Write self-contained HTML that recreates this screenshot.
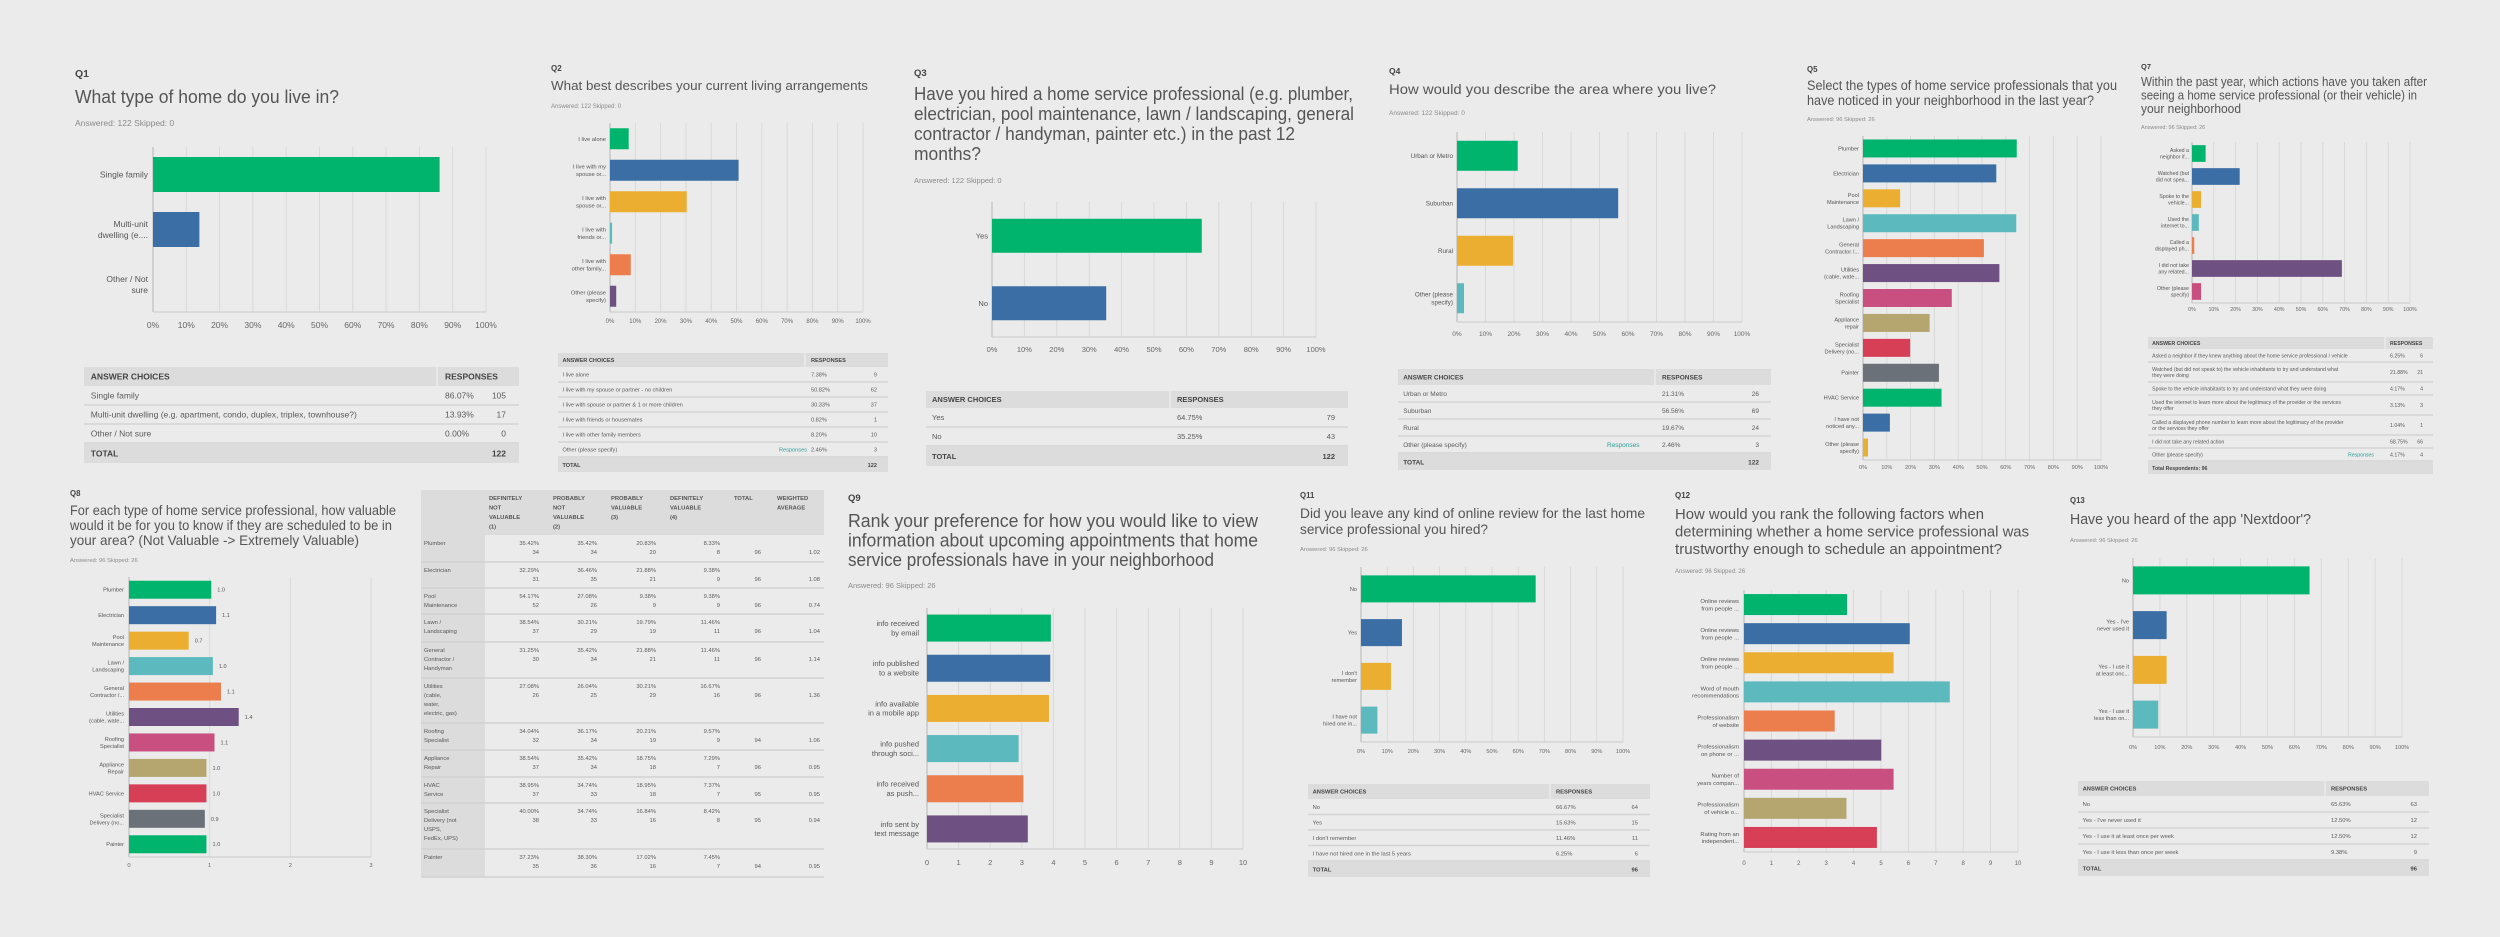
<!DOCTYPE html>
<html><head><meta charset="utf-8"><title>Survey results</title>
<style>
html,body{margin:0;padding:0;background:#ebebeb;}
#root{width:2500px;height:937px;overflow:hidden;}
svg text{font-family:"Liberation Sans",sans-serif;}
</style></head>
<body>
<div id="root">
<svg id="svg" width="2500" height="937" viewBox="0 0 2500 937" xmlns="http://www.w3.org/2000/svg">
<rect x="0" y="0" width="2500" height="937" fill="#ebebeb"/>
</svg>
</div>
<script>
// ---------- DATA ----------
const pctTicks = ["0%","10%","20%","30%","40%","50%","60%","70%","80%","90%","100%"];
const tenTicks = ["0","1","2","3","4","5","6","7","8","9","10"];
const q8Ticks = ["0","1","2","3"];

const q1Cats = ["Single family","Multi-unit|dwelling (e....","Other / Not|sure"];
const q1Vals = [86.07,13.93,0];
const q2Cats = ["I live alone","I live with my|spouse or...","I live with|spouse or...","I live with|friends or...","I live with|other family...","Other (please|specify)"];
const q2Vals = [7.38,50.82,30.33,0.82,8.20,2.46];
const q3Cats = ["Yes","No"];
const q3Vals = [64.75,35.25];
const q4Cats = ["Urban or Metro","Suburban","Rural","Other (please|specify)"];
const q4Vals = [21.31,56.56,19.67,2.46];
const q5Cats = ["Plumber","Electrician","Pool|Maintenance","Lawn /|Landscaping","General|Contractor /...","Utilities|(cable, wate...","Roofing|Specialist","Appliance|repair","Specialist|Delivery (no...","Painter","HVAC Service","I have not|noticed any...","Other (please|specify)"];
const q5Vals = [64.6,56.0,15.6,64.4,50.8,57.3,37.3,28.0,19.8,31.9,33.0,11.3,2.1];
const q7Cats = ["Asked a|neighbor if...","Watched (but|did not spea...","Spoke to the|vehicle...","Used the|internet to...","Called a|displayed ph...","I did not take|any related...","Other (please|specify)"];
const q7Vals = [6.25,21.88,4.17,3.13,1.04,68.75,4.17];
const q8Cats = ["Plumber","Electrician","Pool|Maintenance","Lawn /|Landscaping","General|Contractor /...","Utilities|(cable, wate...","Roofing|Specialist","Appliance|Repair","HVAC Service","Specialist|Delivery (no...","Painter"];
const q8Vals = [1.02,1.08,0.74,1.04,1.14,1.36,1.06,0.96,0.96,0.94,0.96];
const q8ValLabels = ["1.0","1.1","0.7","1.0","1.1","1.4","1.1","1.0","1.0","0.9","1.0"];
const q9Cats = ["info received|by email","info published|to a website","info available|in a mobile app","info pushed|through soci...","info received|as push...","info sent by|text message"];
const q9Vals = [3.92,3.90,3.86,2.90,3.05,3.19];
const q11Cats = ["No","Yes","I don't|remember","I have not|hired one in..."];
const q11Vals = [66.67,15.63,11.46,6.25];
const q12Cats = ["Online reviews|from people ...","Online reviews|from people ...","Online reviews|from people ...","Word of mouth|recommendations","Professionalism|of website","Professionalism|on phone or ...","Number of|years compan...","Professionalism|of vehicle o...","Rating from an|independent..."];
const q12Vals = [3.76,6.05,5.46,7.51,3.31,5.01,5.46,3.74,4.85];
const q13Cats = ["No","Yes - I've|never used it","Yes - I use it|at least onc...","Yes - I use it|less than on..."];
const q13Vals = [65.63,12.50,12.50,9.38];

// table data
const t1Labels = ["Single family","Multi-unit dwelling (e.g. apartment, condo, duplex, triplex, townhouse?)","Other / Not sure"];
const t1Pcts = ["86.07%","13.93%","0.00%"];
const t1Counts = ["105","17","0"];
const t2Labels = ["I live alone","I live with my spouse or partner - no children","I live with spouse or partner & 1 or more children","I live with friends or housemates","I live with other family members","Other (please specify)"];
const t2Pcts = ["7.38%","50.82%","30.33%","0.82%","8.20%","2.46%"];
const t2Counts = ["9","62","37","1","10","3"];
const t3Labels = ["Yes","No"];
const t3Pcts = ["64.75%","35.25%"];
const t3Counts = ["79","43"];
const t4Labels = ["Urban or Metro","Suburban","Rural","Other (please specify)"];
const t4Pcts = ["21.31%","56.56%","19.67%","2.46%"];
const t4Counts = ["26","69","24","3"];
const t7Labels = ["Asked a neighbor if they knew anything about the home service professional / vehicle","Watched (but did not speak to) the vehicle inhabitants to try and understand what|they were doing","Spoke to the vehicle inhabitants to try and understand what they were doing","Used the internet to learn more about the legitimacy of the provider or the services|they offer","Called a displayed phone number to learn more about the legitimacy of the provider|or the services they offer","I did not take any related action","Other (please specify)"];
const t7Pcts = ["6.25%","21.88%","4.17%","3.13%","1.04%","68.75%","4.17%"];
const t7Counts = ["6","21","4","3","1","66","4"];
const t11Labels = ["No","Yes","I don't remember","I have not hired one in the last 5 years"];
const t11Pcts = ["66.67%","15.63%","11.46%","6.25%"];
const t11Counts = ["64","15","11","6"];
const t13Labels = ["No","Yes - I've never used it","Yes - I use it at least once per week","Yes - I use it less than once per week"];
const t13Pcts = ["65.63%","12.50%","12.50%","9.38%"];
const t13Counts = ["63","12","12","9"];

const q8RowLabels = ["Plumber","Electrician","Pool|Maintenance","Lawn /|Landscaping","General|Contractor /|Handyman","Utilities|(cable,|water,|electric, gas)","Roofing|Specialist","Appliance|Repair","HVAC|Service","Specialist|Delivery (not|USPS,|FedEx, UPS)","Painter"];
const q8Pcts = [["35.42%","35.42%","20.83%","8.33%"],["32.29%","36.46%","21.88%","9.38%"],["54.17%","27.08%","9.38%","9.38%"],["38.54%","30.21%","19.79%","11.46%"],["31.25%","35.42%","21.88%","11.46%"],["27.08%","26.04%","30.21%","16.67%"],["34.04%","36.17%","20.21%","9.57%"],["38.54%","35.42%","18.75%","7.29%"],["38.95%","34.74%","18.95%","7.37%"],["40.00%","34.74%","16.84%","8.42%"],["37.23%","38.30%","17.02%","7.45%"]];
const q8Counts = [["34","34","20","8"],["31","35","21","9"],["52","26","9","9"],["37","29","19","11"],["30","34","21","11"],["26","25","29","16"],["32","34","19","9"],["37","34","18","7"],["37","33","18","7"],["38","33","16","8"],["35","36","16","7"]];
const q8Totals = ["96","96","96","96","96","96","94","96","95","95","94"];
const q8Avgs = ["1.02","1.08","0.74","1.04","1.14","1.36","1.06","0.95","0.95","0.94","0.95"];
const q8Headers = ["DEFINITELY|NOT|VALUABLE|(1)","PROBABLY|NOT|VALUABLE|(2)","PROBABLY|VALUABLE|(3)","DEFINITELY|VALUABLE|(4)","TOTAL","WEIGHTED|AVERAGE"];

// ---------- STYLE ----------
const PAL = ["#00b46e","#3b6ea5","#ebae30","#5cb9bd","#ec7d4c","#6e5083","#c84f80","#b5a56f","#d63f55","#6b7178"];
const NS = "http://www.w3.org/2000/svg";
const svg = document.getElementById('svg');

function mk(tag, attrs, parent){
  const el = document.createElementNS(NS, tag);
  for (const k in attrs) el.setAttribute(k, attrs[k]);
  (parent||svg).appendChild(el);
  return el;
}
function txt(x,y,s,size,opt,parent){
  opt = opt||{};
  const el = mk('text',{x:x,y:y,'font-size':size,fill:opt.fill||'#5a5a5a','text-anchor':opt.anchor||'start','font-weight':opt.weight||'normal'},parent);
  if (opt.len){ el.setAttribute('textLength',opt.len); el.setAttribute('lengthAdjust','spacingAndGlyphs'); }
  el.textContent = s;
  return el;
}

function header(g, qx, qy, qlabel, lines, ty, tsize, tlh, tlens, ay, asize){
  const q = txt(qx,qy,qlabel,asize+2,{fill:'#444',weight:'bold'},g);
  
  
  lines.forEach((ln,i)=>{
    const t = txt(qx,ty+i*tlh,ln,tsize,{fill:'#555',len:tlens[i]},g);
    
    
  });
  const a = txt(qx,ay,"Answered: "+(qlabel>="Q5"||qlabel.length>2?"96":"122")+"    Skipped: "+(qlabel>="Q5"||qlabel.length>2?"26":"0"),asize,{fill:'#8a8a8a'},g);
  
  
}

function hbar(g, cats, vals, ticks, maxV, geo, valLabels){
  const {l,r,t,b,barH,fs,tfs,tickY} = geo;
  const xs = v => l + (v/maxV)*(r-l);
  const n = cats.length, band = (b-t)/n;
  const ys = i => t + band*(i+0.5);
  ticks.forEach((tk,i)=>{
    const v = i*maxV/(ticks.length-1);
    const gl = mk('line',{x1:xs(v),x2:xs(v),y1:t,y2:b,stroke:'#d9d9d9','stroke-width':1},g);
    
    
    const tl = txt(xs(v),tickY,tk,tfs,{anchor:'middle',fill:'#666'},g);
    
    
  });
  const ax = mk('line',{x1:l,x2:l,y1:t,y2:b,stroke:'#bdbdbd','stroke-width':1.2},g);
  
  
  const bx = mk('line',{x1:l,x2:r,y1:b,y2:b,stroke:'#cfcfcf','stroke-width':1.2},g);
  
  
  cats.forEach((c,i)=>{
    const cy = ys(i);
    const w = Math.max(0, xs(vals[i])-l);
    const bar = mk('rect',{x:l,y:cy-barH/2,width:w,height:barH,fill:PAL[i%PAL.length]},g);
    
    
    const parts = c.split('|');
    parts.forEach((p,j)=>{
      const yy = cy + fs*0.35 + (j-(parts.length-1)/2)*fs*1.25;
      const lab = txt(geo.lx,yy,p,fs,{anchor:'end',fill:'#555'},g);
      
      
    });
    if (valLabels){
      const vl = txt(xs(vals[i])+geo.vgap,cy+fs*0.35,valLabels[i],fs,{fill:'#555'},g);
      
      
    }
  });
}

function table(g, geo, labels, pcts, counts, totalLabel, totalVal, linkRow){
  const {x1,x2,top,hh,rows,th,fs,rx,cx,hx} = geo;
  const hb = mk('rect',{x:x1,y:top,width:x2-x1,height:hh,fill:'#dcdcdc'},g);
  
  
  const sep = mk('line',{x1:hx,x2:hx,y1:top,y2:top+hh,stroke:'#ebebeb','stroke-width':1.5},g);
  
  
  const h1 = txt(x1+fs*0.8,top+hh/2+fs*0.36,"ANSWER CHOICES",fs,{fill:'#444',weight:'bold'},g);
  
  
  const h2 = txt(rx,top+hh/2+fs*0.36,"RESPONSES",fs,{fill:'#444',weight:'bold'},g);
  
  
  let y = top+hh;
  labels.forEach((lb,i)=>{
    const h = rows[i];
    const parts = lb.split('|');
    const base = y + h/2 + fs*0.36 - (parts.length-1)*fs*0.6;
    parts.forEach((p,j)=>{
      const t = txt(x1+fs*0.8,base+j*fs*1.2,p,fs,{fill:'#5a5a5a'},g);
      
      
    });
    const pt = txt(rx,y+h/2+fs*0.36,pcts[i],fs,{fill:'#5a5a5a'},g);
    
    
    const ct = txt(cx,y+h/2+fs*0.36,counts[i],fs,{fill:'#5a5a5a',anchor:'end'},g);
    
    
    if (linkRow===i){
      const lk = txt(geo.linkX,y+h/2+fs*0.36,"Responses",fs,{fill:'#2a9d9a'},g);
      
      
    }
    y += h;
    const rl = mk('line',{x1:x1,x2:x2,y1:y,y2:y,stroke:'#d4d4d4','stroke-width':1.5},g);
    
    
  });
  const tb = mk('rect',{x:x1,y:y+1,width:x2-x1,height:th,fill:'#dcdcdc'},g);
  
  
  const tt = txt(x1+fs*0.8,y+1+th/2+fs*0.36,totalLabel,fs,{fill:'#444',weight:'bold'},g);
  
  
  if (totalVal){
    const tv = txt(cx,y+1+th/2+fs*0.36,totalVal,fs,{fill:'#444',weight:'bold',anchor:'end'},g);
    
    
  }
}

function panel(name){
  const g = mk('g',{});
  
  
  return g;
}

// ---------- Q1 ----------
let g = panel('q1-panel');
header(g,75,77,"Q1",["What type of home do you live in?"],103,18,0,[264],126,8.5);
hbar(g,q1Cats,q1Vals,pctTicks,100,{l:153,r:486,t:147,b:312,barH:35,fs:8.5,tfs:8.5,tickY:328,lx:148});
table(g,{x1:84,x2:519,top:367,hh:19,rows:[19,19,19],th:19,fs:8.5,rx:445,cx:506,hx:437},t1Labels,t1Pcts,t1Counts,"TOTAL","122");

// ---------- Q2 ----------
g = panel('q2-panel');
header(g,551,71,"Q2",["What best describes your current living arrangements"],90,13,0,[317],108,6);
hbar(g,q2Cats,q2Vals,pctTicks,100,{l:610,r:863,t:123,b:312,barH:21,fs:5.8,tfs:6,tickY:323,lx:606});
table(g,{x1:558,x2:888,top:353,hh:14,rows:[15,15,15,15,15,15],th:14,fs:5.6,rx:811,cx:877,hx:805,linkX:779},t2Labels,t2Pcts,t2Counts,"TOTAL","122",5);

// ---------- Q3 ----------
g = panel('q3-panel');
header(g,914,76,"Q3",["Have you hired a home service professional (e.g. plumber,","electrician, pool maintenance, lawn / landscaping, general","contractor / handyman, painter etc.) in the past 12","months?"],100,18,20,[439,440,381,67],183,7.5);
hbar(g,q3Cats,q3Vals,pctTicks,100,{l:992,r:1316,t:202,b:337,barH:34,fs:7.5,tfs:7.5,tickY:352,lx:988});
table(g,{x1:926,x2:1348,top:391,hh:17,rows:[19,19],th:19,fs:7.5,rx:1177,cx:1335,hx:1170},t3Labels,t3Pcts,t3Counts,"TOTAL","122");

// ---------- Q4 ----------
g = panel('q4-panel');
header(g,1389,74,"Q4",["How would you describe the area where you live?"],94,14,0,[327],115,6.5);
hbar(g,q4Cats,q4Vals,pctTicks,100,{l:1457,r:1742,t:132,b:322,barH:30,fs:6.3,tfs:6.5,tickY:336,lx:1453});
table(g,{x1:1398,x2:1771,top:369,hh:16,rows:[17,17,17,17],th:16,fs:6.5,rx:1662,cx:1759,hx:1655,linkX:1607},t4Labels,t4Pcts,t4Counts,"TOTAL","122",3);

// ---------- Q5 ----------
g = panel('q5-panel');
header(g,1807,72,"Q5",["Select the types of home service professionals that you","have noticed in your neighborhood in the last year?"],90,13.5,15,[310,287],121,5.8);
hbar(g,q5Cats,q5Vals,pctTicks,100,{l:1863,r:2101,t:136,b:460,barH:18,fs:5.6,tfs:5.6,tickY:469,lx:1859});

// ---------- Q7 ----------
g = panel('q7-panel');
header(g,2141,69,"Q7",["Within the past year, which actions have you taken after","seeing a home service professional (or their vehicle) in","your neighborhood"],86,12.5,13.5,[286,276,100],129,5.5);
hbar(g,q7Cats,q7Vals,pctTicks,100,{l:2192,r:2410,t:142,b:303,barH:16.7,fs:5.3,tfs:5.3,tickY:311,lx:2189});
table(g,{x1:2148,x2:2433,top:337,hh:12,rows:[13,20,13,20,20,13,13],th:12,fs:5.2,rx:2390,cx:2423,hx:2385,linkX:2348},t7Labels,t7Pcts,t7Counts,"Total Respondents: 96","",6);

// ---------- Q8 ----------
g = panel('q8-panel');
header(g,70,496,"Q8",["For each type of home service professional, how valuable","would it be for you to know if they are scheduled to be in","your area? (Not Valuable -> Extremely Valuable)"],515,14,15,[326,322,289],562,5.8);
hbar(g,q8Cats,q8Vals,q8Ticks,3,{l:129,r:371,t:577,b:857,barH:18,fs:5.6,tfs:5.8,tickY:867,lx:124,vgap:6},q8ValLabels);

// Q8 table
(function(){
  const tg = panel('q8-matrix-table');
  const colX = [421,485,549,607,666,730,773,824];
  const rowY = [535,562,588,614,642,678,723,750,777,803,849,877];
  const fs = 5.8;
  const hdr = mk('rect',{x:421,y:490,width:403,height:45,fill:'#dcdcdc'},tg);
  
  
  const lc = mk('rect',{x:421,y:535,width:64,height:342,fill:'#dcdcdc'},tg);
  
  
  q8Headers.forEach((h,i)=>{
    h.split('|').forEach((p,j)=>{
      const t = txt(colX[i+1]+4,500+j*9.5,p,fs,{fill:'#555',weight:'bold'},tg);
      
      
    });
  });
  q8RowLabels.forEach((lab,r)=>{
    const y0 = rowY[r], y1 = rowY[r+1];
    lab.split('|').forEach((p,j)=>{
      const t = txt(424,y0+10+j*9,p,fs,{fill:'#555'},tg);
      
      
    });
    for (let c=0;c<4;c++){
      const p = txt(colX[c+2]-10,y0+10,q8Pcts[r][c],fs,{fill:'#5a5a5a',anchor:'end'},tg);
      
      
      const n = txt(colX[c+2]-10,y0+19,q8Counts[r][c],fs,{fill:'#5a5a5a',anchor:'end'},tg);
      
      
    }
    const tt = txt(761,y0+19,q8Totals[r],fs,{fill:'#5a5a5a',anchor:'end'},tg);
    
    
    const av = txt(820,y0+19,q8Avgs[r],fs,{fill:'#5a5a5a',anchor:'end'},tg);
    
    
    const ln = mk('line',{x1:421,x2:824,y1:y1,y2:y1,stroke:'#d2d2d2','stroke-width':1.5},tg);
    
    
  });
})();

// ---------- Q9 ----------
g = panel('q9-panel');
header(g,848,501,"Q9",["Rank your preference for how you would like to view","information about upcoming appointments that home","service professionals have in your neighborhood"],527,18,19.5,[410,410,366],588,7.5);
hbar(g,q9Cats,q9Vals,tenTicks,10,{l:927,r:1243,t:608,b:849,barH:27,fs:7.5,tfs:7.5,tickY:865,lx:919});

// ---------- Q11 ----------
g = panel('q11-panel');
header(g,1300,498,"Q11",["Did you leave any kind of online review for the last home","service professional you hired?"],518,14,16,[345,188],551,5.8);
hbar(g,q11Cats,q11Vals,pctTicks,100,{l:1361,r:1623,t:567,b:742,barH:27,fs:5.6,tfs:5.6,tickY:753,lx:1357});
table(g,{x1:1308,x2:1650,top:784,hh:15,rows:[15.5,15.5,15.5,15.5],th:15,fs:5.8,rx:1556,cx:1638,hx:1550},t11Labels,t11Pcts,t11Counts,"TOTAL","96");

// ---------- Q12 ----------
g = panel('q12-panel');
header(g,1675,498,"Q12",["How would you rank the following factors when","determining whether a home service professional was","trustworthy enough to schedule an appointment?"],519,15,17.5,[309,354,327],573,6);
hbar(g,q12Cats,q12Vals,tenTicks,10,{l:1744,r:2018,t:590,b:852,barH:21,fs:5.9,tfs:6,tickY:865,lx:1739});

// ---------- Q13 ----------
g = panel('q13-panel');
header(g,2070,503,"Q13",["Have you heard of the app 'Nextdoor'?"],524,15,0,[241],542,5.8);
hbar(g,q13Cats,q13Vals,pctTicks,100,{l:2133,r:2402,t:558,b:737,barH:28,fs:5.6,tfs:5.6,tickY:749,lx:2129});
table(g,{x1:2078,x2:2429,top:781,hh:15,rows:[16,16,16,16],th:15,fs:5.8,rx:2331,cx:2417,hx:2325},t13Labels,t13Pcts,t13Counts,"TOTAL","96");
</script>
</body></html>
